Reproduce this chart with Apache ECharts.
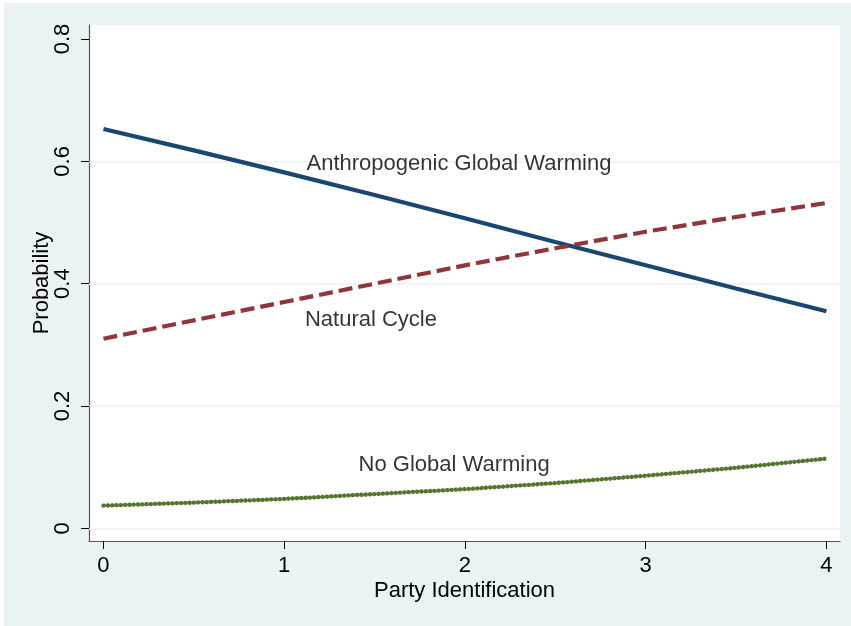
<!DOCTYPE html>
<html>
<head>
<meta charset="utf-8">
<script src="https://cdn.jsdelivr.net/npm/echarts@6/dist/echarts.min.js"></script>
<style>
  html, body { margin: 0; padding: 0; background: #ffffff; }
  #chart { position: absolute; left: 4px; top: 3px; width: 847px; height: 623px; background: #eaf2f3; }
</style>
</head>
<body>
<div id="chart"></div>
<script>
// Party identification values (x)
const partyId = [0, 0.5, 1, 1.5, 2, 2.5, 3, 3.5, 4];
// Predicted probabilities
const anthropogenic = [0.653, 0.618, 0.582, 0.545, 0.507, 0.468, 0.430, 0.392, 0.355];
const naturalCycle  = [0.310, 0.340, 0.370, 0.400, 0.430, 0.458, 0.485, 0.509, 0.532];
const noWarming     = [0.037, 0.042, 0.048, 0.056, 0.064, 0.074, 0.086, 0.099, 0.114];

// Tick labels / gridlines
const xTicks = [0, 1, 2, 3, 4];
const yTicks = [0, 0.2, 0.4, 0.6, 0.8];
const gridValues = [0, 0.2, 0.4, 0.6];

// In-plot text annotations (data coordinates)
const annoText = ['Anthropogenic Global Warming', 'Natural Cycle', 'No Global Warming'];
const annoX = [1.967, 1.48, 1.94];
const annoY = [0.596, 0.341, 0.1035];

const pairs = (xs, ys) => xs.map((x, i) => [x, ys[i]]);
const FONT = 'Liberation Sans, Arial, Helvetica, sans-serif';
const FS = 22;

const chart = echarts.init(document.getElementById('chart'), null, { renderer: 'canvas' });
chart.setOption({
  backgroundColor: '#eaf2f3',
  animation: false,
  textStyle: { fontFamily: FONT },
  grid: {
    left: 85, top: 22, right: 11, bottom: 85,
    show: true, backgroundColor: '#ffffff', borderWidth: 0
  },
  xAxis: {
    type: 'value',
    min: -0.08, max: 4.075,
    name: 'Party Identification',
    nameLocation: 'middle',
    nameGap: 39,
    nameMoveOverlap: false,
    nameTextStyle: { color: '#000', fontSize: FS, fontFamily: FONT },
    axisLine: { show: true, onZero: false, lineStyle: { color: '#555', width: 1.2 } },
    axisTick: { show: true, length: 8, customValues: xTicks, lineStyle: { color: '#000', width: 1 } },
    axisLabel: { customValues: xTicks, color: '#000', fontSize: FS, margin: 14, fontFamily: FONT },
    splitLine: { show: false }
  },
  yAxis: {
    type: 'value',
    min: -0.0208, max: 0.823,
    name: 'Probability',
    nameLocation: 'middle',
    nameGap: 36,
    nameMoveOverlap: false,
    nameTextStyle: { color: '#000', fontSize: FS, fontFamily: FONT },
    axisLine: { show: true, onZero: false, lineStyle: { color: '#555', width: 1.2 } },
    axisTick: { show: true, length: 8, customValues: yTicks, lineStyle: { color: '#000', width: 1 } },
    axisLabel: {
      customValues: yTicks, color: '#000', fontSize: FS, rotate: 90, margin: 15, fontFamily: FONT,
      formatter: v => (v === 0 ? '0' : String(v))
    },
    splitLine: { show: false }
  },
  series: [
    {
      type: 'line',
      z: 1,
      silent: true,
      data: [],
      markLine: {
        z: 1,
        silent: true, symbol: 'none',
        label: { show: false },
        lineStyle: { color: '#eaf2f3', width: 1.6, type: 'solid' },
        data: gridValues.map(v => ({ yAxis: v }))
      }
    },
    {
      name: 'Anthropogenic Global Warming',
      type: 'line', z: 3, showSymbol: false,
      data: pairs(partyId, anthropogenic),
      lineStyle: { color: '#1a476f', width: 4.2 }
    },
    {
      name: 'Natural Cycle',
      type: 'line', z: 3, showSymbol: false,
      data: pairs(partyId, naturalCycle),
      lineStyle: { color: '#90353b', width: 4.2, type: [14, 6] }
    },
    {
      name: 'No Global Warming',
      type: 'line', z: 3, showSymbol: false,
      data: pairs(partyId, noWarming),
      lineStyle: { color: '#55752f', width: 4.3, type: [0.3, 4], cap: 'round' }
    },
    {
      type: 'scatter',
      z: 4,
      symbolSize: 0,
      silent: true,
      data: annoText.map((t, i) => ({ value: [annoX[i], annoY[i]], name: t })),
      label: {
        show: true, position: 'inside', formatter: p => p.name,
        color: '#000', fontSize: FS, fontFamily: FONT,
        textBorderWidth: 0, textBorderColor: 'transparent'
      }
    }
  ]
});
</script>
</body>
</html>
